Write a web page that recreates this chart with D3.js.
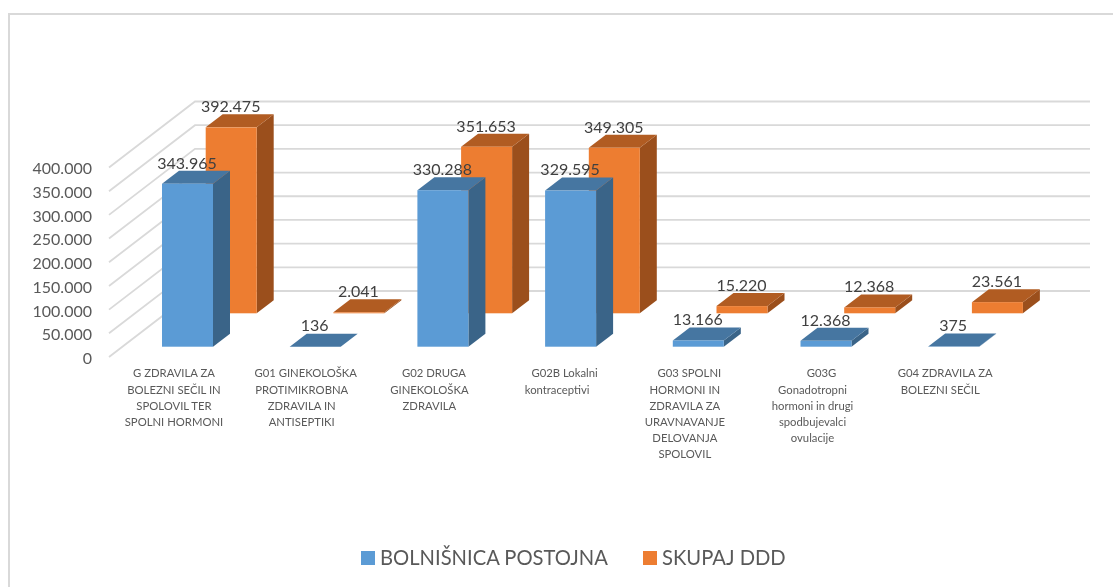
<!DOCTYPE html>
<html><head><meta charset="utf-8">
<script src="https://cdnjs.cloudflare.com/ajax/libs/d3/7.8.5/d3.min.js"></script>
<style>html,body{margin:0;background:#fff}svg{display:block;filter:blur(.35px)}text{font-family:Lato,"Open Sans",sans-serif}</style>
</head><body><svg id="c" width="1113" height="587"></svg>
<script>
const categories=[
 ["G ZDRAVILA ZA","BOLEZNI SEČIL IN","SPOLOVIL TER","SPOLNI HORMONI"],
 ["G01 GINEKOLOŠKA","PROTIMIKROBNA","ZDRAVILA IN","ANTISEPTIKI"],
 ["G02 DRUGA","GINEKOLOŠKA","ZDRAVILA"],
 ["G02B Lokalni","kontraceptivi"],
 ["G03 SPOLNI","HORMONI IN","ZDRAVILA ZA","URAVNAVANJE","DELOVANJA","SPOLOVIL"],
 ["G03G","Gonadotropni","hormoni in drugi","spodbujevalci","ovulacije"],
 ["G04 ZDRAVILA ZA","BOLEZNI SEČIL"]];
const seriesNames=["BOLNIŠNICA POSTOJNA","SKUPAJ DDD"];
const bolnisnica=[343965,136,330288,329595,13166,12368,375];
const skupaj=[392475,2041,351653,349305,15220,12368,23561];
const tickValues=[0,50000,100000,150000,200000,250000,300000,350000,400000];

const svg=d3.select("#c");
const fmt=d3.formatLocale({decimal:",",thousands:".",grouping:[3],currency:["",""]}).format(",d");
const idx=categories.map((_,i)=>i);
const x=d3.scalePoint().domain(idx).range([187.5,953.7]);
const yFront=d3.scaleLinear().domain([0,400000]).range([357,167.5]);
const h=d3.scaleLinear().domain([0,400000]).range([0,189.5]);
const wall={dx:86,dy:-66,right:1090};
const bw=51, sd={dx:17,dy:-13};
const firstLineShift=[0,4,4.5,7.5,4.5,9,5];
const styles=[
 {front:"#5b9bd5",top:"#4676a1",side:"#3a6488",baseY:346.7,off:0},
 {front:"#ed7d31",top:"#b15c22",side:"#9b4f1c",baseY:313.3,off:43.7}];

// frame
svg.append("path").attr("d","M9,587V14H1113").attr("fill","none").attr("stroke","#d9d9d9").attr("stroke-width",2);

// gridlines
svg.append("g").selectAll("path").data(tickValues).join("path")
 .attr("d",v=>{const y=yFront(v);return `M109,${y}L${109+wall.dx},${y+wall.dy}H${wall.right}`;})
 .attr("fill","none").attr("stroke","#d9d9d9").attr("stroke-width",1.8);

// axis labels
const ax=svg.append("g").attr("transform","translate(92,1.3)").call(d3.axisLeft(yFront).tickValues(tickValues).tickSize(0).tickPadding(0).tickFormat(fmt));
ax.select(".domain").remove();
ax.selectAll("text").attr("font-size",16).attr("fill","#595959").style("font-family","Lato");

// bars (rear series first)
function bars(vals,s){
 const g=svg.append("g");
 vals.forEach((v,i)=>{
  const x0=x(i)-bw/2+s.off, x1=x0+bw, yb=s.baseY, yt=yb-h(v);
  g.append("path").attr("d",`M${x1},${yb}L${x1+sd.dx},${yb+sd.dy}V${yt+sd.dy}L${x1},${yt}Z`).attr("fill",s.side);
  g.append("path").attr("d",`M${x0},${yt}L${x0+sd.dx},${yt+sd.dy}H${x1+sd.dx}L${x1},${yt}Z`).attr("fill",s.top);
  g.append("rect").attr("x",x0).attr("y",yt).attr("width",bw).attr("height",h(v)).attr("fill",s.front);
 });
}
bars(skupaj,styles[1]);
bars(bolnisnica,styles[0]);

// value labels
function labels(vals,s){
 svg.append("g").selectAll("text").data(vals).join("text")
  .attr("x",(v,i)=>x(i)+s.off-0.5)
  .attr("y",v=>s.baseY-h(v)+sd.dy-7.8)
  .attr("dy","0.35em").attr("text-anchor","middle")
  .attr("font-size",16).attr("fill","#404040").text(fmt);
}
labels(skupaj,styles[1]);
labels(bolnisnica,styles[0]);

// category labels
const cg=svg.append("g").selectAll("text").data(categories).join("text")
 .attr("text-anchor","middle").attr("font-size",11.3).attr("fill","#595959");
cg.each(function(lines,i){
 d3.select(this).selectAll("tspan").data(lines).join("tspan")
  .attr("x",(d,k)=>x(i)-13.5+(k===0?firstLineShift[i]:0)).attr("y",(d,k)=>373.5+k*16.2).attr("dy","0.35em").text(d=>d);
});

// legend
const lg=[{x:361,t:380},{x:643,t:662}];
seriesNames.forEach((n,i)=>{
 svg.append("rect").attr("x",lg[i].x).attr("y",551).attr("width",14).attr("height",14).attr("fill",styles[i].front);
 svg.append("text").attr("x",lg[i].t).attr("y",558).attr("dy","0.35em").attr("font-size",20.2).attr("fill","#595959").text(n);
});
</script></body></html>
